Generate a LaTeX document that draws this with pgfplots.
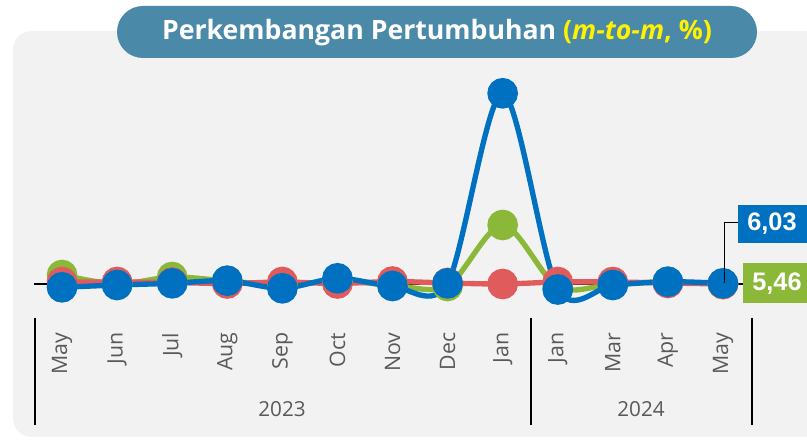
\documentclass[border=0pt]{standalone}
\usepackage{fontspec}
\setmainfont{Open Sans}
\newfontfamily\valfont{Liberation Sans}
\usepackage{pgfplots}
\pgfplotsset{compat=1.18}

\definecolor{cblue}{HTML}{0070C0}
\definecolor{cgreen}{HTML}{8CB83A}
\definecolor{cred}{HTML}{E05C5C}
\definecolor{pill}{HTML}{4A89A8}
\definecolor{panel}{HTML}{F2F2F2}
\definecolor{txtgray}{HTML}{595959}

\begin{document}
\begin{tikzpicture}
% background in pixel units (y down)
\begin{scope}[x=0.75pt,y=-0.75pt]
  \path (0,0) rectangle (807,441);
  \fill[panel, rounded corners=14pt] (13,31) rectangle (807,437);
  \fill[panel] (780,31) rectangle (807,437);
  \fill[pill, rounded corners=19.5pt] (117,6) rectangle (757,58);
  \node[text=white, font=\bfseries\fontsize{20}{24}\selectfont] at (437,33)
    {Perkembangan Pertumbuhan {\color{yellow}(\textit{m-to-m}, \%)}};
\end{scope}

\begin{axis}[
  at={(25.875pt,-238.5pt)}, anchor=south west,
  scale only axis, width=537pt, height=193.5pt,
  xmin=-0.5, xmax=12.5, ymin=-3.4, ymax=22.4,
  axis line style={draw=none},
  ytick=\empty,
  xtick={0,...,12},
  xticklabels={May,Jun,Jul,Aug,Sep,Oct,Nov,Dec,Jan,Jan,Mar,Apr,May},
  major tick length=0pt,
  xticklabel shift=7.5pt,
  xticklabel style={rotate=90, anchor=east, text=txtgray,
    font=\fontsize{16}{19}\selectfont},
  clip=false,
  every axis plot/.append style={line width=4pt, smooth, tension=0.5,
    mark=*, mark size=9.5pt},
]
\draw[black, line width=1.5pt] (axis cs:-0.5,0) -- (axis cs:12.5,0);

% green series
\addplot[cgreen, mark options={fill=cgreen, draw=none}] table {
x y
0 0.9
1 0.0
2 0.7
3 0.3
4 -0.1
5 0.3
6 -0.1
7 -0.2
8 5.9
9 -0.3
10 0.0
11 0.2
12 0.0
};
% red series
\addplot[cred, mark options={fill=cred, draw=none}] table {
x y
0 0.2
1 0.2
2 0.15
3 0.05
4 0.2
5 0.05
6 0.25
7 0.1
8 0.0
9 0.2
10 0.2
11 0.1
12 0.0
};
% blue series
\addplot[cblue, mark options={fill=cblue, draw=none}] table {
x y
0 -0.33
1 -0.1
2 0.07
3 0.33
4 -0.43
5 0.57
6 -0.2
7 0.07
8 19.07
9 -0.55
10 -0.1
11 0.23
12 0.07
};
\end{axis}

% annotations in pixel units
\begin{scope}[x=0.75pt,y=-0.75pt]
  \draw[black, line width=1.5pt] (34.5,318) -- (34.5,425);
  \draw[black, line width=1.5pt] (530.5,318) -- (530.5,425);
  \draw[black, line width=1.5pt] (751.5,318) -- (751.5,425);
  \node[text=txtgray, font=\fontsize{15.5}{18}\selectfont] at (282,409) {2023};
  \node[text=txtgray, font=\fontsize{15.5}{18}\selectfont] at (641,409) {2024};
  \draw[black, line width=0.75pt] (724,283) -- (724,223) -- (738,223);
  \fill[cblue] (738,205) rectangle (807,243);
  \fill[cgreen] (743,263) rectangle (807,303);
  \node[text=white, font=\valfont\bfseries\fontsize{19}{22}\selectfont] at (772,224) {6,03};
  \node[text=white, font=\valfont\bfseries\fontsize{19}{22}\selectfont] at (777,284) {5,46};
\end{scope}
\end{tikzpicture}
\end{document}
